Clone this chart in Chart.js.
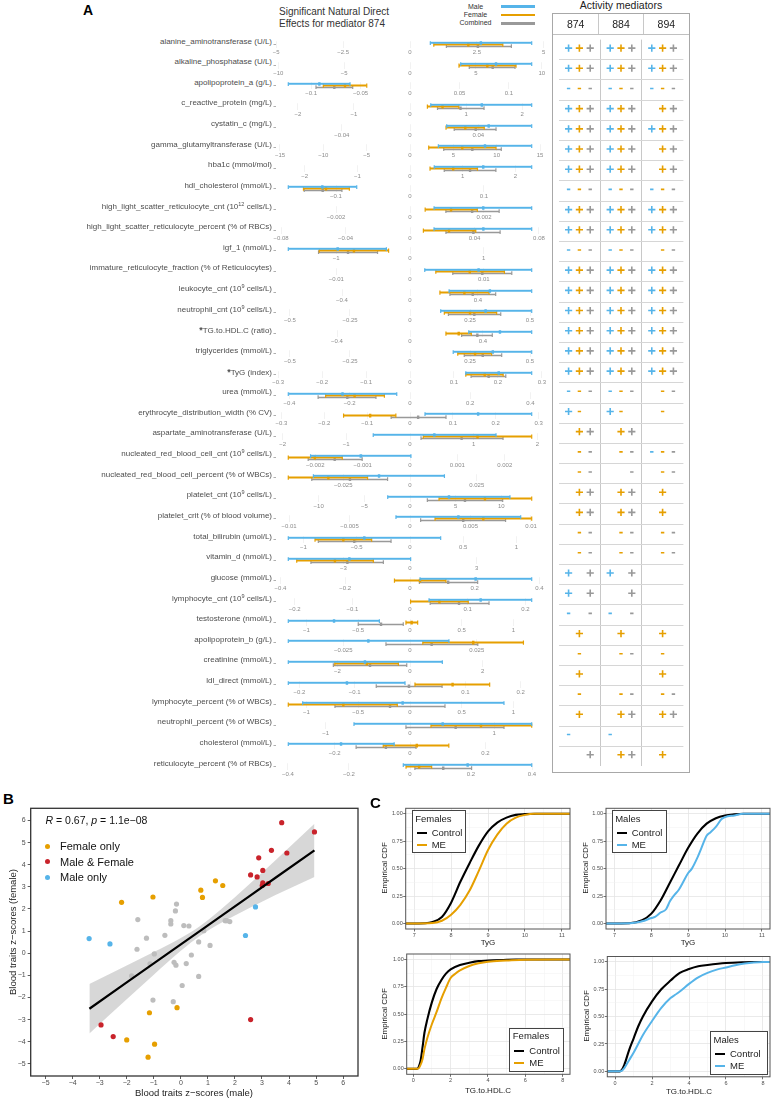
<!DOCTYPE html>
<html><head><meta charset="utf-8">
<script src="https://cdn.jsdelivr.net/npm/chart.js@4.4.0/dist/chart.umd.min.js"></script>
<style>
body{margin:0;background:#fff;width:773px;height:1100px;position:relative;overflow:hidden;font-family:"Liberation Sans",Arial,Helvetica,sans-serif;}
.abs{position:absolute;white-space:nowrap;}
canvas{position:absolute;}
sup{font-size:5.5px;vertical-align:3px;line-height:0;}
</style></head><body>
<script>
// ---------------- Panel A data ----------------
const traits = [
'alanine_aminotransferase (U/L)','alkaline_phosphatase (U/L)','apolipoprotein_a (g/L)','c_reactive_protein (mg/L)',
'cystatin_c (mg/L)','gamma_glutamyltransferase (U/L)','hba1c (mmol/mol)','hdl_cholesterol (mmol/L)',
'high_light_scatter_reticulocyte_cnt (10^12 cells/L)','high_light_scatter_reticulocyte_percent (% of RBCs)','igf_1 (nmol/L)',
'immature_reticulocyte_fraction (% of Reticulocytes)','leukocyte_cnt (10^9 cells/L)','neutrophil_cnt (10^9 cells/L)',
'*TG.to.HDL.C (ratio)','triglycerides (mmol/L)','*TyG (index)','urea (mmol/L)','erythrocyte_distribution_width (% CV)',
'aspartate_aminotransferase (U/L)','nucleated_red_blood_cell_cnt (10^9 cells/L)','nucleated_red_blood_cell_percent (% of WBCs)',
'platelet_cnt (10^9 cells/L)','platelet_crit (% of blood volume)','total_bilirubin (umol/L)','vitamin_d (nmol/L)','glucose (mmol/L)',
'lymphocyte_cnt (10^9 cells/L)','testosterone (nmol/L)','apolipoprotein_b (g/L)','creatinine (mmol/L)','ldl_direct (mmol/L)',
'lymphocyte_percent (% of WBCs)','neutrophil_percent (% of WBCs)','cholesterol (mmol/L)','reticulocyte_percent (% of RBCs)'];

const maleLo  = [0.76,3.85,-0.123,0.37,0.0215,3.27,0.46,-0.1645,0.00065,0.0149,-1.65,0.0020,0.23,0.128,0.322,0.18,0.127,-0.404,0.035,-0.577,-0.0021,-0.0362,-2.44,-0.00116,-1.143,-5.48,0.031,0.033,-1.176,-0.0456,-3.35,-0.22,-1.037,-0.665,-0.323,-0.022];
const maleMid = [2.65,6.53,-0.0916,1.28,0.0461,8.65,1.39,-0.1185,0.00198,0.0455,-0.98,0.0093,0.47,0.315,0.493,0.345,0.202,-0.224,0.159,0.382,-0.00104,-0.0116,4.27,0.004,-0.429,-2.73,0.203,0.1225,-0.734,-0.0156,-1.24,-0.114,-0.071,0.388,-0.183,0.189];
const maleHi  = [4.55,9.24,-0.0606,2.17,0.0713,14.04,2.31,-0.072,0.00329,0.0755,-0.32,0.0165,0.716,0.507,0.667,0.507,0.277,-0.044,0.284,1.35,0.00002,0.0129,10.95,0.00915,0.288,0.03,0.376,0.211,-0.296,0.0146,0.89,-0.009,0.908,1.445,-0.042,0.399];
const femaleLo  = [0.89,3.72,-0.0876,0.31,0.0211,2.16,0.38,-0.144,0.00041,0.0083,-1.23,0.0035,0.176,0.143,0.197,0.199,0.127,-0.28,-0.155,0.209,-0.00257,-0.0456,3.18,0.00207,-0.892,-5.1,-0.048,0.001,-0.039,0.0048,-2.07,0.009,-1.176,0.249,-0.071,-0.013];
const femaleMid = [2.18,5.87,-0.0657,0.58,0.0324,6.03,0.82,-0.1135,0.00111,0.0242,-0.76,0.0081,0.32,0.25,0.267,0.271,0.17,-0.184,-0.093,1.06,-0.00201,-0.0306,8.21,0.00606,-0.626,-3.38,0.031,0.051,0.016,0.0237,-1.19,0.077,-0.644,0.843,0.018,0.03];
const femaleHi  = [3.47,8.05,-0.0437,0.87,0.0435,9.92,1.28,-0.082,0.00182,0.0408,-0.29,0.0128,0.465,0.361,0.336,0.34,0.212,-0.085,-0.033,1.91,-0.00143,-0.0159,13.33,0.01006,-0.36,-1.65,0.111,0.101,0.074,0.0425,-0.32,0.144,-0.123,1.445,0.103,0.071];
const combLo  = [1.36,4.50,-0.095,0.49,0.0259,3.89,0.65,-0.143,0.00097,0.0223,-1.24,0.0058,0.235,0.16,0.283,0.226,0.139,-0.305,-0.044,0.173,-0.00215,-0.0368,1.9,0.00088,-0.861,-4.46,0.029,0.035,-0.5,-0.009,-2.11,-0.061,-0.725,-0.048,-0.143,0.016];
const combMid = [2.54,6.28,-0.0765,0.90,0.0385,7.19,1.14,-0.118,0.00168,0.0393,-0.84,0.0098,0.369,0.268,0.369,0.303,0.179,-0.208,0.019,0.81,-0.00159,-0.0225,6.02,0.0044,-0.523,-2.82,0.118,0.085,-0.28,0.0081,-1.1,-0.002,-0.193,0.542,-0.064,0.109];
const combHi  = [3.79,7.97,-0.0579,1.32,0.0504,10.53,1.63,-0.092,0.00241,0.0559,-0.44,0.0138,0.504,0.378,0.451,0.382,0.218,-0.113,0.084,1.46,-0.00101,-0.0084,10.15,0.0079,-0.178,-1.2,0.209,0.137,-0.065,0.0254,-0.09,0.058,0.338,1.116,0.016,0.202];

const rowTicks = [
[-5,-2.5,0,2.5,5],[-10,-5,0,5,10],[-0.1,-0.05,0,0.05,0.1],[-2,-1,0,1,2],[-0.04,0,0.04],[-15,-10,-5,0,5,10,15],
[-2,-1,0,1,2],[-0.1,0,0.1],[-0.002,0,0.002],[-0.08,-0.04,0,0.04,0.08],[-1,0,1],[-0.01,0,0.01],[-0.4,0,0.4],
[-0.5,-0.25,0,0.25,0.5],[-0.4,0,0.4],[-0.5,-0.25,0,0.25,0.5],[-0.3,-0.2,-0.1,0,0.1,0.2,0.3],[-0.4,-0.2,0,0.2,0.4],
[-0.3,-0.2,-0.1,0,0.1,0.2,0.3],[-2,-1,0,1,2],[-0.002,-0.001,0,0.001,0.002],[-0.025,0,0.025],[-10,-5,0,5,10],
[-0.01,-0.005,0,0.005,0.01],[-1,-0.5,0,0.5,1],[-3,0,3],[-0.4,-0.2,0,0.2,0.4],[-0.2,-0.1,0,0.1,0.2],[-1,-0.5,0,0.5,1],
[-0.025,0,0.025],[-2,0,2],[-0.2,-0.1,0,0.1,0.2],[-1,-0.5,0,0.5,1],[-1,0,1],[-0.2,0,0.2],[-0.4,-0.2,0,0.2,0.4]];

const seriesNames = ['Male','Female','Combined'];
const mediators = ['874','884','894'];
// per row: mediator 874 | 884 | 894 ; each 3 chars = Male, Female, Combined
const activity = [
'+++|+++|+++','+++|+++|+++','---|---|---','+++|+++| ++','+++|+++|+++','+++|+++| ++','+++|+++| ++','---|---|---',
'+++|+++|+++','+++|+++|+++','---|---| --','+++|+++|+++','+++|+++|+++','+++|+++|+++','+++|+++|+++','+++|+++|+++',
'+++|+++|+++','---|---| --','+- |+- | - ',' ++| ++|   ',' --| --|---',' --|  -| --',' ++| ++| + ',' ++| ++| + ',
' --| --| --',' --| --| --','+ +|+ +|   ','+ +|  +|   ','- -|- -|   ',' + | + | + ',' - | --| - ',' + |   | + ',
' - | --| --',' + | ++| ++','-  |-  |   ','  +| ++| + '];

// ---------------- Panel B data ----------------
const femaleOnlyX = [-2.19,-1.03,0.74,0.80,1.28,1.55,-1.16,-0.14,-2.0,-0.97,-1.21];
const femaleOnlyY = [2.30,2.54,2.85,2.52,3.27,3.06,-2.69,-2.46,-3.92,-4.11,-4.70];
const bothX = [3.73,3.35,3.92,2.88,3.03,2.58,2.82,3.03,3.01,3.23,4.94,-2.95,-2.50,2.58];
const bothY = [5.90,4.65,4.53,4.31,3.74,3.54,3.45,3.18,3.06,3.15,5.48,-3.24,-3.77,-3.00];
const maleOnlyX = [-3.39,-2.62,2.76,2.39];
const maleOnlyY = [0.66,0.42,2.09,0.80];
const nsX = [-0.16,-0.20,-1.59,-0.37,-0.37,0.11,0.30,1.69,1.81,1.64,0.85,-0.59,-1.27,0.66,1.08,-1.62,-0.98,0.39,-1.14,-0.25,-0.18,0.20,-1.82,0.66,0.05,-1.03,-0.28];
const nsY = [2.22,1.91,1.52,1.47,1.32,1.25,1.23,1.47,1.43,1.47,1.02,0.81,0.68,0.51,0.35,0.18,-0.03,-0.08,-0.48,-0.41,-0.54,-0.47,-1.02,-1.05,-1.46,-2.12,-2.19];
const fitX  = [-3.38,-2,-1,0,0.7,1.5,2.5,3.5,4.94];
const fitY  = [-2.51,-1.32,-0.46,0.40,1.00,1.69,2.55,3.41,4.65];
const fitHi = [-1.39,-0.56,0.05,0.69,1.22,2.00,3.08,4.20,5.85];
const fitLo = [-3.63,-2.08,-0.97,0.11,0.78,1.38,2.02,2.63,3.45];
const bTicks = [-5,-4,-3,-2,-1,0,1,2,3,4,5,6];

// ---------------- Panel C data ----------------
const cdfTicks = [0,0.25,0.5,0.75,1];
const tygTicks = [7,8,9,10,11];
const tgTicks = [0,2,4,6,8];
const fTyGCtrlX = [6.77,7.3,7.5,7.75,8.0,8.25,8.5,8.75,9.0,9.25,9.5,9.75,10.0,10.3,11.22];
const fTyGCtrlY = [0,0.003,0.015,0.06,0.19,0.38,0.55,0.71,0.84,0.92,0.965,0.99,0.997,1,1];
const fTyGMEX = [6.77,7.5,7.75,8.0,8.25,8.5,8.75,9.0,9.25,9.5,9.75,10.0,10.25,11.22];
const fTyGMEY = [0,0.005,0.025,0.08,0.17,0.3,0.48,0.67,0.81,0.91,0.965,0.99,1,1];
const mTyGCtrlX = [6.77,7.4,7.75,8.0,8.25,8.5,8.75,9.0,9.25,9.5,9.75,10.0,10.25,10.5,11.22];
const mTyGCtrlY = [0,0.003,0.03,0.09,0.21,0.37,0.53,0.69,0.82,0.91,0.96,0.985,0.995,1,1];
const mTyGMEX = [6.77,7.5,7.6,7.75,8.0,8.1,8.25,8.4,8.5,8.6,8.75,8.85,9.0,9.1,9.25,9.35,9.5,9.6,9.75,9.9,10.0,10.25,10.5,11.22];
const mTyGMEY = [0,0.005,0.01,0.02,0.05,0.06,0.10,0.13,0.20,0.25,0.31,0.37,0.46,0.50,0.60,0.68,0.80,0.83,0.88,0.95,0.97,0.985,1,1];
const fTGCtrlX = [-0.35,0.2,0.3,0.4,0.5,0.6,0.75,1.0,1.25,1.5,1.75,2.0,2.5,3.0,3.5,4.0,5.0,5.5,8.39];
const fTGCtrlY = [0,0,0.02,0.08,0.2,0.33,0.45,0.61,0.73,0.81,0.87,0.91,0.95,0.97,0.985,0.99,0.998,1,1];
const fTGMEX = [-0.35,0.25,0.35,0.5,0.6,0.75,1.0,1.25,1.5,1.75,2.0,2.25,2.5,3.0,3.5,4.0,5.0,6.0,8.39];
const fTGMEY = [0,0,0.02,0.09,0.18,0.28,0.41,0.52,0.64,0.74,0.83,0.87,0.9,0.94,0.965,0.98,0.99,0.998,1];
const mTGCtrlX = [-0.42,0.25,0.35,0.5,0.75,1.0,1.25,1.5,2.0,2.5,3.0,3.5,4.0,4.5,5.0,6.0,7.0,7.5,8.38];
const mTGCtrlY = [0,0,0.01,0.06,0.19,0.3,0.41,0.5,0.64,0.75,0.83,0.9,0.935,0.96,0.972,0.99,0.998,1,1];
const mTGMEX = [-0.42,0.3,0.5,0.75,1.0,1.25,1.5,2.0,2.5,3.0,3.25,3.5,4.0,4.5,5.0,5.5,6.0,6.5,7.0,7.5,8.0,8.38];
const mTGMEY = [0,0,0.03,0.1,0.17,0.25,0.33,0.46,0.58,0.67,0.70,0.73,0.8,0.86,0.9,0.93,0.95,0.97,0.985,0.995,1,1];

// ---------------- styles ----------------
const C_M = '#56B4E9', C_F = '#E69F00', C_C = '#999999', C_RED = '#C9232B', C_NS = '#BDBDBD';
const FONT = '"Liberation Sans", Arial, Helvetica, sans-serif';
Chart.defaults.font.family = FONT;
Chart.defaults.animation = false;
Chart.defaults.plugins.legend.display = false;
Chart.defaults.plugins.tooltip.enabled = false;
Chart.defaults.events = [];

const framePlugin = { id:'frame', afterDatasetsDraw(chart, args, opts){
  if(!opts || !opts.color) return; const a = chart.chartArea, ctx = chart.ctx;
  ctx.save(); ctx.strokeStyle = opts.color; ctx.lineWidth = opts.width || 1;
  ctx.strokeRect(a.left, a.top, a.right-a.left, a.bottom-a.top); ctx.restore(); } };

function fmt(v){ if(Math.abs(v) < 1e-12) return '0'; return (v<0?'\u2212':'') + String(+Math.abs(v).toPrecision(6)); }
function pts(xs, ys){ return xs.map((x,i)=>({x:x, y:ys[i]})); }
function txt(html, css){ const d=document.createElement('div'); d.className='abs'; d.innerHTML=html; d.style.cssText += css; document.body.appendChild(d); return d; }
function mk(cr, ar, cfg){
  const cv = document.createElement('canvas');
  cv.width = cr.w; cv.height = cr.h;
  cv.style.left = cr.l+'px'; cv.style.top = cr.t+'px'; cv.style.width = cr.w+'px'; cv.style.height = cr.h+'px';
  document.body.appendChild(cv);
  cfg.options.responsive = false; cfg.options.maintainAspectRatio = false;
  cfg.options.layout = {padding:{left:0, bottom:0, top: ar.t-cr.t, right: cr.l+cr.w-ar.r}};
  const xH = cr.t+cr.h-ar.b, yW = ar.l-cr.l;
  cfg.options.scales.x.afterFit = s => { s.height = xH; };
  cfg.options.scales.y.afterFit = s => { s.width = yW; };
  return new Chart(cv, cfg);
}
function setTicks(list){ return s => { s.ticks = list.map(v => ({value:v})); }; }

// ---------------- Panel A headers ----------------
txt('A', 'left:83px;top:2px;font-size:14px;font-weight:bold;');
txt('Significant Natural Direct', 'left:279px;top:6px;font-size:10px;color:#333;line-height:12px;');
txt('Effects for mediator 874', 'left:279px;top:18px;font-size:10px;color:#333;line-height:12px;');
[C_M, C_F, C_C].forEach((c,k)=>{
  const yc = 6.7 + 8.3*k;
  txt(seriesNames[k], 'left:445px;width:61px;text-align:center;top:'+(yc-5)+'px;line-height:10px;font-size:7px;color:#333;');
  txt('', 'left:501px;width:34px;height:2.6px;background:'+c+';top:'+(yc-1.3)+'px;');
});

// ---------------- Panel A rows ----------------
function seg(lo, mid, hi, y, color, w){
  return {data:[{x:lo,y:y},{x:mid,y:y},{x:hi,y:y}], showLine:true, borderColor:color, borderWidth:w,
    pointStyle:'line', pointRotation:90, pointRadius:[2.2,1.9,2.2], pointBorderWidth:[1.2,2.4,1.2],
    pointBorderColor:color, pointBackgroundColor:color};
}
traits.forEach((name, i) => {
  const yc = 42 + 20.63*i;
  let html = name.replace(/10\^(\d+)/, '10<sup>$1</sup>');
  if (html[0] === '*') html = '<b style="font-size:9px">*</b>' + html.slice(1);
  txt(html, 'left:0;width:272px;text-align:right;top:'+(yc-5.5)+'px;line-height:10px;font-size:8px;color:#4d4d4d;');
  const M = Math.max(...[maleLo[i],maleHi[i],femaleLo[i],femaleHi[i],combLo[i],combHi[i]].map(Math.abs));
  const lim = M*1.101;
  mk({l:250, t:yc-6, w:320, h:21}, {l:276, t:yc-6, r:544, b:yc+6}, {
    type:'scatter',
    data:{datasets:[
      seg(maleLo[i], maleMid[i], maleHi[i], 0.55, C_M, 2),
      seg(femaleLo[i], femaleMid[i], femaleHi[i], 0, C_F, 2),
      seg(combLo[i], combMid[i], combHi[i], -0.55, C_C, 1.6)]},
    options:{scales:{
      x:{type:'linear', min:-lim, max:lim, afterBuildTicks:setTicks(rowTicks[i]),
         ticks:{font:{size:6}, color:'#8c8c8c', padding:1, autoSkip:false, maxRotation:0, callback:v=>fmt(v)},
         grid:{color:'#ededed', lineWidth:0.7, drawTicks:false}, border:{display:false}},
      y:{type:'linear', min:-1, max:1, afterBuildTicks:setTicks([0]),
         ticks:{display:false},
         grid:{drawOnChartArea:false, drawTicks:true, tickLength:2.5, tickColor:'#9a9a9a', tickWidth:0.8},
         border:{display:false}}
    }}
  });
});

// ---------------- Activity mediators table ----------------
txt('Activity mediators', 'left:553px;width:136px;text-align:center;top:-1px;line-height:12px;font-size:10.5px;color:#222;');
txt('', 'left:552px;top:13px;width:138px;height:760px;border:1.5px solid #a8a8a8;box-sizing:border-box;');
mediators.forEach((m,k)=>{
  txt(m, 'left:'+(553+45.33*k)+'px;width:45.33px;text-align:center;top:14px;height:20px;line-height:20px;font-size:10.5px;color:#222;');
  if (k>0) txt('', 'left:'+(553+45.33*k-0.5)+'px;top:14px;width:1px;height:20px;background:#c8c8c8;');
});
txt('', 'left:553px;top:33.5px;width:136px;height:1px;background:#c0c0c0;');
(function(){
  const colors = [C_M, C_F, C_C], offs = [0.24, 0.5, 0.76];
  const sets = [];
  colors.forEach((c,k)=>{
    ['+','-'].forEach(sym=>{
      const data = [];
      activity.forEach((row, r)=>{
        row.split('|').forEach((cell, col)=>{ if (cell[k] === sym) data.push({x: col+offs[k], y: r+0.42}); });
      });
      sets.push({data, pointStyle: sym==='+' ? 'cross' : 'line', pointRadius: sym==='+' ? 3.6 : 1.7,
        pointBorderWidth: 1.6, pointBorderColor:c, pointBackgroundColor:c});
    });
  });
  const rowLines = activity.slice(1).map((_, r) => r+1);
  mk({l:553, t:34, w:136, h:738}, {l:553, t:34, r:689, b:772}, {
    type:'scatter', data:{datasets:sets},
    options:{scales:{
      x:{type:'linear', min:0, max:3, afterBuildTicks:setTicks([1,2]), ticks:{display:false},
         grid:{color:'#c8c8c8', lineWidth:1, drawTicks:false}, border:{display:false}},
      y:{type:'linear', min:0, max:36, reverse:true, afterBuildTicks:setTicks(rowLines), ticks:{display:false},
         grid:{color:'#d6d6d6', lineWidth:1, drawTicks:false}, border:{display:false}}
    }}
  });
})();

// ---------------- Panel B ----------------
txt('B', 'left:3px;top:790px;font-size:15px;font-weight:bold;');
function ptSet(xs, ys, c){ return {data:pts(xs,ys), pointRadius:2.6, pointBorderWidth:0, pointBackgroundColor:c, pointBorderColor:c}; }
mk({l:0, t:800, w:372, h:300}, {l:30.7, t:808.3, r:358, b:1076}, {
  type:'scatter',
  data:{datasets:[
    {type:'line', data:pts(fitX, fitY), borderColor:'#000', borderWidth:2.2, pointRadius:0, fill:false},
    ptSet(maleOnlyX, maleOnlyY, C_M),
    ptSet(bothX, bothY, C_RED),
    ptSet(femaleOnlyX, femaleOnlyY, C_F),
    ptSet(nsX, nsY, C_NS),
    {type:'line', data:pts(fitX, fitHi), borderWidth:0, pointRadius:0, fill:'+1', backgroundColor:'rgba(150,150,150,0.38)', cubicInterpolationMode:'monotone'},
    {type:'line', data:pts(fitX, fitLo), borderWidth:0, pointRadius:0, fill:false, cubicInterpolationMode:'monotone'}
  ]},
  options:{
    plugins:{frame:{color:'#333', width:1.3}},
    scales:{
      x:{type:'linear', min:-5.55, max:6.55, afterBuildTicks:setTicks(bTicks),
         ticks:{font:{size:7}, color:'#4d4d4d', padding:0, autoSkip:false, maxRotation:0, callback:v=>fmt(v)},
         grid:{drawOnChartArea:false, tickLength:3, tickColor:'#333', tickWidth:0.8}, border:{display:false}},
      y:{type:'linear', min:-5.55, max:6.55, afterBuildTicks:setTicks(bTicks),
         ticks:{font:{size:7}, color:'#4d4d4d', padding:2, autoSkip:false, callback:v=>fmt(v)},
         grid:{drawOnChartArea:false, tickLength:3, tickColor:'#333', tickWidth:0.8}, border:{display:false}}
    }},
  plugins:[framePlugin]
});
txt('<i>R</i> = 0.67, <i>p</i> = 1.1e\u221208', 'left:45.5px;top:813px;line-height:14px;font-size:10.5px;color:#111;');
[['Female only', C_F, 846], ['Male &amp; Female', C_RED, 861.7], ['Male only', C_M, 877.3]].forEach(e=>{
  txt('', 'left:45.2px;top:'+(e[2]-2.5)+'px;width:5px;height:5px;border-radius:50%;background:'+e[1]+';');
  txt(e[0], 'left:60px;top:'+(e[2]-7)+'px;line-height:14px;font-size:11px;color:#111;');
});
txt('Blood traits z\u2212scores (male)', 'left:94px;width:200px;text-align:center;top:1087px;line-height:12px;font-size:9.5px;color:#222;');
txt('Blood traits z\u2212scores (female)', 'left:-87px;width:200px;text-align:center;top:926px;line-height:12px;font-size:9.5px;color:#222;transform:rotate(-90deg);');

// ---------------- Panel C ----------------
txt('C', 'left:370px;top:794px;font-size:15px;font-weight:bold;');
function cdfChart(cr, ar, xmin, xmax, xt, ctrl, me, meColor){
  const xMinor = xt.slice(0,-1).map((v,i)=>(v+xt[i+1])/2);
  const yMinor = cdfTicks.slice(0,-1).map((v,i)=>(v+cdfTicks[i+1])/2);
  const grid = (minor) => ({
    color: c => (c.tick && minor.includes(c.tick.value)) ? '#f1f1f1' : '#e4e4e4',
    lineWidth: c => (c.tick && minor.includes(c.tick.value)) ? 0.5 : 0.8,
    tickColor: c => (c.tick && minor.includes(c.tick.value)) ? 'rgba(0,0,0,0)' : '#4d4d4d',
    tickLength: 2.5, tickWidth: 0.8 });
  mk(cr, ar, {
    type:'scatter',
    data:{datasets:[
      {data:me, showLine:true, borderColor:meColor, borderWidth:2, pointRadius:0, cubicInterpolationMode:'monotone'},
      {data:ctrl, showLine:true, borderColor:'#000', borderWidth:2.1, pointRadius:0, cubicInterpolationMode:'monotone'}]},
    options:{
      plugins:{frame:{color:'#555', width:1}},
      scales:{
        x:{type:'linear', min:xmin, max:xmax, afterBuildTicks:setTicks(xt.concat(xMinor).sort((a,b)=>a-b)),
           ticks:{font:{size:5.5}, color:'#4d4d4d', padding:0.5, autoSkip:false, maxRotation:0,
                  callback:v => xMinor.includes(v) ? '' : fmt(v)},
           grid:grid(xMinor), border:{display:false}},
        y:{type:'linear', min:-0.05, max:1.05, afterBuildTicks:setTicks(cdfTicks.concat(yMinor).sort((a,b)=>a-b)),
           ticks:{font:{size:5.5}, color:'#4d4d4d', padding:0.5, autoSkip:false,
                  callback:v => yMinor.includes(v) ? '' : v.toFixed(2)},
           grid:grid(yMinor), border:{display:false}}
      }},
    plugins:[framePlugin]
  });
}
cdfChart({l:360,t:800,w:215,h:150},{l:405.7,t:808.3,r:570,b:929}, 6.77, 11.22, tygTicks, pts(fTyGCtrlX,fTyGCtrlY), pts(fTyGMEX,fTyGMEY), C_F);
cdfChart({l:560,t:800,w:213,h:150},{l:606,t:808.3,r:770,b:929}, 6.77, 11.22, tygTicks, pts(mTyGCtrlX,mTyGCtrlY), pts(mTyGMEX,mTyGMEY), C_M);
cdfChart({l:360,t:946,w:215,h:154},{l:406.7,t:954,r:570,b:1074.3}, -0.35, 8.39, tgTicks, pts(fTGCtrlX,fTGCtrlY), pts(fTGMEX,fTGMEY), C_F);
cdfChart({l:560,t:946,w:213,h:154},{l:607.3,t:956.5,r:770,b:1076.8}, -0.42, 8.38, tgTicks, pts(mTGCtrlX,mTGCtrlY), pts(mTGMEX,mTGMEY), C_M);

function ytitle(x, yc){ txt('Empirical CDF', 'left:'+(x-40)+'px;width:80px;text-align:center;top:'+(yc-5)+'px;line-height:10px;font-size:8px;color:#222;transform:rotate(-90deg);'); }
function xtitle(t, xc, yc){ txt(t, 'left:'+(xc-40)+'px;width:80px;text-align:center;top:'+(yc-5)+'px;line-height:10px;font-size:8px;color:#222;'); }
ytitle(385, 868); ytitle(586, 868); ytitle(385, 1014); ytitle(587, 1016);
xtitle('TyG', 488, 942.7); xtitle('TyG', 688, 942.7);
xtitle('TG.to.HDL.C', 488, 1090.7); xtitle('TG.to.HDL.C', 689, 1091.7);

function cLegend(l, t, w, h, title, meColor){
  txt('', 'left:'+l+'px;top:'+t+'px;width:'+w+'px;height:'+h+'px;border:1px solid #444;background:#fff;box-sizing:border-box;');
  txt(title, 'left:'+(l+3.5)+'px;top:'+(t+2.5)+'px;line-height:12px;font-size:9.5px;color:#222;');
  [['Control','#000',t+23.3],['ME',meColor,t+35]].forEach(e=>{
    txt('', 'left:'+(l+5)+'px;top:'+(e[2]-1.2)+'px;width:10px;height:2.4px;background:'+e[1]+';');
    txt(e[0], 'left:'+(l+20)+'px;top:'+(e[2]-6)+'px;line-height:12px;font-size:9.5px;color:#222;');
  });
}
cLegend(411.7, 810, 54.3, 43.3, 'Females', C_F);
cLegend(611.7, 810, 55.6, 43.3, 'Males', C_M);
cLegend(509.3, 1027.7, 55, 44.6, 'Females', C_F);
cLegend(710, 1031, 58.3, 44, 'Males', C_M);
</script>
</body></html>
